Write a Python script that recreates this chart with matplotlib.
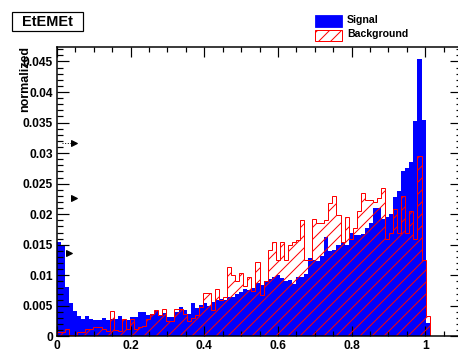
import matplotlib
matplotlib.use("Agg")
import matplotlib.pyplot as plt
import numpy as np
from matplotlib.patches import Rectangle
from matplotlib.ticker import MultipleLocator

# Histogram binning: 100 bins over [0, 1.1]
x_min, x_max, n_bins = 0.0, 1.1, 100

signal = [
    0.0155, 0.0149, 0.0081, 0.0055, 0.0041, 0.0033, 0.0028, 0.0034, 0.0028, 0.0027,
    0.0027, 0.0030, 0.0027, 0.0028, 0.0028, 0.0034, 0.0027, 0.0027, 0.0032, 0.0032,
    0.0040, 0.0040, 0.0035, 0.0036, 0.0041, 0.0034, 0.0038, 0.0032, 0.0032, 0.0040,
    0.0049, 0.0043, 0.0036, 0.0054, 0.0047, 0.0052, 0.0054, 0.0050, 0.0057, 0.0060,
    0.0062, 0.0060, 0.0064, 0.0065, 0.0070, 0.0072, 0.0077, 0.0076, 0.0079, 0.0087,
    0.0085, 0.0090, 0.0094, 0.0098, 0.0100, 0.0095, 0.0090, 0.0093, 0.0086, 0.0098,
    0.0098, 0.0103, 0.0128, 0.0125, 0.0123, 0.0131, 0.0163, 0.0140, 0.0141, 0.0150,
    0.0155, 0.0150, 0.0170, 0.0166, 0.0166, 0.0168, 0.0177, 0.0186, 0.0210, 0.0210,
    0.0193, 0.0196, 0.0200, 0.0229, 0.0238, 0.0270, 0.0275, 0.0286, 0.0352, 0.0454,
    0.0354, 0.0022, 0.0, 0.0, 0.0, 0.0, 0.0, 0.0, 0.0, 0.0,
]

background = [
    0.0008, 0.0008, 0.0012, 0.0003, 0.0000, 0.0008, 0.0008, 0.0012, 0.0012, 0.0015,
    0.0015, 0.0012, 0.0009, 0.0041, 0.0010, 0.0009, 0.0029, 0.0012, 0.0029, 0.0013,
    0.0015, 0.0017, 0.0028, 0.0037, 0.0044, 0.0035, 0.0045, 0.0026, 0.0026, 0.0045,
    0.0045, 0.0036, 0.0025, 0.0030, 0.0035, 0.0048, 0.0071, 0.0071, 0.0043, 0.0077,
    0.0060, 0.0064, 0.0114, 0.0100, 0.0090, 0.0104, 0.0082, 0.0097, 0.0074, 0.0122,
    0.0068, 0.0090, 0.0142, 0.0155, 0.0125, 0.0155, 0.0125, 0.0150, 0.0155, 0.0158,
    0.0191, 0.0125, 0.0125, 0.0192, 0.0186, 0.0186, 0.0190, 0.0218, 0.0230, 0.0199,
    0.0155, 0.0196, 0.0160, 0.0178, 0.0205, 0.0235, 0.0223, 0.0223, 0.0220, 0.0227,
    0.0243, 0.0160, 0.0170, 0.0209, 0.0170, 0.0230, 0.0170, 0.0205, 0.0160, 0.0295,
    0.0125, 0.0034, 0.0, 0.0, 0.0, 0.0, 0.0, 0.0, 0.0, 0.0,
]

xtick_values = [0.0, 0.2, 0.4, 0.6, 0.8, 1.0]
xtick_labels = ["0", "0.2", "0.4", "0.6", "0.8", "1"]
ytick_values = [0.0, 0.005, 0.01, 0.015, 0.02, 0.025, 0.03, 0.035, 0.04, 0.045]
ytick_labels = ["0", "0.005", "0.01", "0.015", "0.02", "0.025", "0.03", "0.035", "0.04", "0.045"]
y_top = 0.04737

# small arrow markers near the left axis
arrow_x = [0.046, 0.046, 0.033]
arrow_y = [0.0317, 0.0226, 0.0136]

plt.rcParams["font.family"] = ["Liberation Sans", "DejaVu Sans"]
plt.rcParams["font.weight"] = "bold"
plt.rcParams["hatch.linewidth"] = 1.0

W, H, DPI = 458, 349, 72
fig = plt.figure(figsize=((W + 0.01) / DPI, (H + 0.01) / DPI), dpi=DPI)
fig.patch.set_facecolor("white")

ax = fig.add_axes([57 / W, 1 - 336.5 / H, 405 / W, 289.5 / H])
edges = np.linspace(x_min, x_max, n_bins + 1)

ax.stairs(signal, edges, fill=True, facecolor=(0, 0, 1), edgecolor="none",
          linewidth=0, zorder=1)
ax.stairs(background, edges, fill=True, facecolor="none", edgecolor=(1, 0, 0),
          hatch="//", linewidth=1.0, zorder=2)

ax.plot([0.014, 0.044], [arrow_y[0], arrow_y[0]], ls=":", color="k", lw=1, zorder=3)
ax.plot(arrow_x, arrow_y, ls="none", marker=">", color="k", ms=6, zorder=3)

ax.set_xlim(x_min, x_max)
ax.set_ylim(0, y_top)
ax.set_xticks(xtick_values, xtick_labels)
ax.set_yticks(ytick_values, ytick_labels)
ax.xaxis.set_minor_locator(MultipleLocator(0.05))
ax.yaxis.set_minor_locator(MultipleLocator(0.001))

ax.tick_params(which="both", direction="in", top=True, right=True, width=1.2,
               labelsize=12, colors="black")
ax.tick_params(axis="y", which="major", length=12, pad=4)
ax.tick_params(axis="y", which="minor", length=6)
ax.tick_params(axis="x", which="major", length=10, pad=3)
ax.tick_params(axis="x", which="minor", length=5)
for sp in ax.spines.values():
    sp.set_linewidth(1.5)

# title box
fig.add_artist(Rectangle((12 / W, 1 - 31 / H), 71 / W, 19 / H, transform=fig.transFigure,
                         facecolor="white", edgecolor="black", linewidth=1.2))
fig.text(47.5 / W, 1 - 21.5 / H, "EtEMEt", ha="center", va="center", fontsize=14.5)

# y-axis title
fig.text(25 / W, 1 - 46 / H, "normalized", rotation=90, ha="center", va="top",
         fontsize=12.5)

# legend entries
fig.add_artist(Rectangle((315 / W, 1 - 27 / H), 27 / W, 12 / H, transform=fig.transFigure,
                         facecolor=(0, 0, 1), edgecolor=(0, 0, 1), linewidth=0.8))
fig.add_artist(Rectangle((315 / W, 1 - 41 / H), 27 / W, 11 / H, transform=fig.transFigure,
                         facecolor="white", edgecolor=(1, 0, 0), hatch="//", linewidth=1.0))
fig.text(347 / W, 1 - 19.5 / H, "Signal", ha="left", va="center", fontsize=10.5)
fig.text(347 / W, 1 - 33.5 / H, "Background", ha="left", va="center", fontsize=10.5)

fig.savefig("out.png", dpi=DPI, facecolor="white")
